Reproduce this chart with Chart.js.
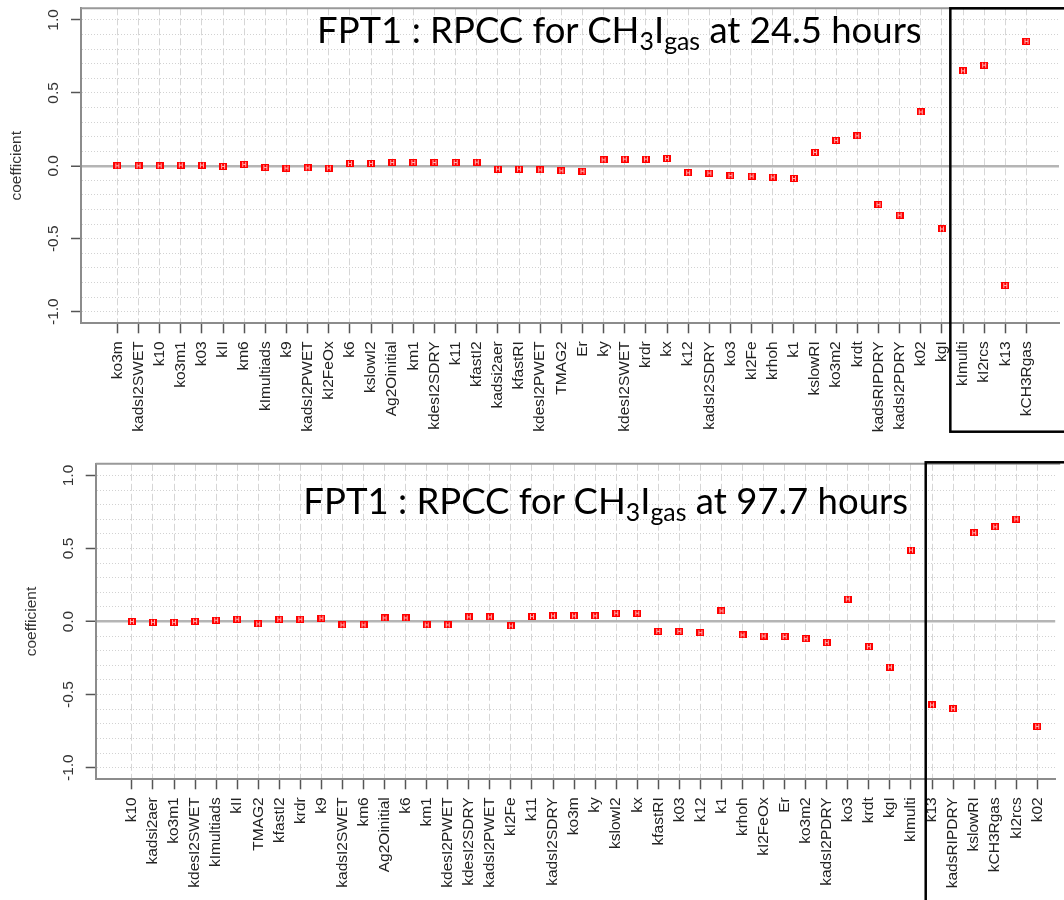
<!DOCTYPE html>
<html>
<head>
<meta charset="utf-8">
<script src="https://cdn.jsdelivr.net/npm/chart.js@4.4.1/dist/chart.umd.min.js"></script>
<style>
  html, body { margin: 0; padding: 0; background: #fff; overflow: hidden; }
  body { width: 1064px; height: 900px; position: relative; }
  canvas { position: absolute; left: 0; }
  #topChart { top: 0; }
  #bottomChart { top: 455px; }
  .title {
    position: absolute;
    font-family: Lato, "Open Sans", sans-serif;
    font-size: 36.5px;
    line-height: 1;
    color: #000;
    white-space: nowrap;
  }
  .title .sub { font-size: 0.68em; position: relative; top: 0.3em; }
  #topTitle { left: 317px; top: 11px; }
  #bottomTitle { right: 156px; top: 482px; }
</style>
</head>
<body>
<canvas id="topChart" width="1064" height="455"></canvas>
<canvas id="bottomChart" width="1064" height="445"></canvas>
<div class="title" id="topTitle">FPT1 : RPCC for CH<span class="sub">3</span>I<span class="sub">gas</span> at 24.5 hours</div>
<div class="title" id="bottomTitle">FPT1 : RPCC for CH<span class="sub">3</span>I<span class="sub">gas</span> at 97.7 hours</div>
<script>
// parameters at 24.5 hours
const topLabels = ['ko3m', 'kadsI2SWET', 'k10', 'ko3m1', 'k03', 'kII', 'km6', 'kImultiads', 'k9', 'kadsI2PWET',
  'kI2FeOx', 'k6', 'kslowI2', 'Ag2Oinitial', 'km1', 'kdesI2SDRY', 'k11', 'kfastI2', 'kadsi2aer', 'kfastRI',
  'kdesI2PWET', 'TMAG2', 'Er', 'ky', 'kdesI2SWET', 'krdr', 'kx', 'k12', 'kadsI2SDRY', 'ko3',
  'kI2Fe', 'krhoh', 'k1', 'kslowRI', 'ko3m2', 'krdt', 'kadsRIPDRY', 'kadsI2PDRY', 'k02', 'kgI',
  'kImulti', 'kI2rcs', 'k13', 'kCH3Rgas']
const topValues = [0.0, 0.0, 0.0, 0.005, 0.005, -0.004, 0.01, -0.012, -0.016, -0.014,
  -0.016, 0.016, 0.016, 0.023, 0.023, 0.023, 0.023, 0.025, -0.023, -0.023,
  -0.028, -0.034, -0.037, 0.041, 0.046, 0.046, 0.05, -0.048, -0.05, -0.067,
  -0.071, -0.078, -0.087, 0.092, 0.174, 0.206, -0.266, -0.339, 0.369, -0.433,
  0.651, 0.69, -0.821, 0.853]

// parameters at 97.7 hours
const bottomLabels = ['k10', 'kadsi2aer', 'ko3m1', 'kdesI2SWET', 'kImultiads', 'kII', 'TMAG2', 'kfastI2', 'krdr', 'k9',
  'kadsI2SWET', 'km6', 'Ag2Oinitial', 'k6', 'km1', 'kdesI2PWET', 'kdesI2SDRY', 'kadsI2PWET', 'kI2Fe', 'k11',
  'kadsI2SDRY', 'ko3m', 'ky', 'kslowI2', 'kx', 'kfastRI', 'k03', 'k12', 'k1', 'krhoh',
  'kI2FeOx', 'Er', 'ko3m2', 'kadsI2PDRY', 'ko3', 'krdt', 'kgI', 'kImulti', 'k13', 'kadsRIPDRY',
  'kslowRI', 'kCH3Rgas', 'kI2rcs', 'k02']
const bottomValues = [0.0, -0.005, -0.005, 0.002, 0.009, 0.016, -0.016, 0.016, 0.016, 0.023,
  -0.023, -0.023, 0.025, 0.025, -0.023, -0.023, 0.032, 0.032, -0.03, 0.034,
  0.039, 0.039, 0.039, 0.057, 0.057, -0.067, -0.067, -0.076, 0.073, -0.092,
  -0.099, -0.103, -0.117, -0.144, 0.154, -0.172, -0.312, 0.489, -0.571, -0.596,
  0.608, 0.649, 0.702, -0.718]

const yTickValues = [-1.0, -0.5, 0.0, 0.5, 1.0]
const yTickLabels = ['-1.0', '-0.5', '0.0', '0.5', '1.0']

// dotted grid every 0.1
const yGrid = []
for (let i = -10; i <= 10; i++) yGrid.push(i / 10)

const isMajor = v => yTickValues.some(t => Math.abs(t - v) < 1e-9)

const axisFont = '"Liberation Sans", Arial, sans-serif'

// little red square marker
function makeMarker() {
  const c = document.createElement('canvas')
  c.width = 8
  c.height = 7
  const g = c.getContext('2d')
  g.fillStyle = '#ff0000'
  g.fillRect(0, 0, 8, 7)
  g.fillStyle = 'rgba(255,200,200,0.9)'
  g.fillRect(2, 1, 1, 5)
  g.fillRect(5, 1, 1, 5)
  g.fillRect(3, 3, 2, 1)
  return c
}
const marker = makeMarker()

// frame top line, rotated y labels, highlight box
const panelExtras = {
  id: 'panelExtras',
  afterDraw(chart, args, opts) {
    const {ctx, chartArea} = chart
    const x = chart.scales.x
    const y = chart.scales.y
    ctx.save()
    ctx.strokeStyle = '#999'
    ctx.lineWidth = 2
    ctx.beginPath()
    ctx.moveTo(chartArea.left, chartArea.top)
    ctx.lineTo(chartArea.right + 5, chartArea.top)
    ctx.stroke()

    ctx.fillStyle = '#333'
    ctx.font = '15.5px ' + axisFont
    ctx.textAlign = 'center'
    ctx.textBaseline = 'middle'
    yTickValues.forEach((v, i) => {
      ctx.save()
      ctx.translate(chartArea.left - 27, y.getPixelForValue(v))
      ctx.rotate(-Math.PI / 2)
      ctx.fillText(yTickLabels[i], 0, 0)
      ctx.restore()
    })

    const bx = x.getPixelForValue(opts.boxFrom)
    ctx.strokeStyle = '#000'
    ctx.lineWidth = 2.5
    ctx.strokeRect(bx, opts.boxTop, chart.width + 20 - bx, opts.boxBottom - opts.boxTop)
    ctx.restore()
  }
}

function makePanel(id, labels, values, geo) {
  const points = values.map((v, i) => ({x: i, y: v}))
  return new Chart(document.getElementById(id), {
    type: 'scatter',
    data: {
      datasets: [{
        data: points,
        pointStyle: marker,
        pointRadius: 4,
        showLine: false
      }]
    },
    plugins: [panelExtras],
    options: {
      responsive: false,
      animation: false,
      layout: {padding: {top: geo.top, left: 0, right: 0, bottom: 0}},
      plugins: {
        legend: {display: false},
        tooltip: {enabled: false},
        panelExtras: {boxFrom: geo.boxFrom, boxTop: geo.boxTop, boxBottom: geo.boxBottom}
      },
      scales: {
        x: {
          type: 'linear',
          min: -1.72,
          max: geo.xMax,
          afterBuildTicks: axis => { axis.ticks = labels.map((_, i) => ({value: i})) },
          afterFit: axis => { axis.height = geo.xHeight },
          ticks: {
            autoSkip: false,
            minRotation: 90,
            maxRotation: 90,
            padding: 8,
            color: '#222',
            font: {family: axisFont, size: 15.5},
            callback: v => labels[v]
          },
          grid: {
            color: '#d6d6d6',
            lineWidth: 1,
            tickColor: '#555',
            tickLength: 10,
            tickWidth: 1.5
          },
          border: {display: true, color: '#8c8c8c', width: 2, dash: [7, 3]}
        },
        y: {
          min: -1.08,
          max: 1.08,
          afterBuildTicks: axis => { axis.ticks = yGrid.map(v => ({value: v})) },
          afterFit: axis => { axis.width = geo.left },
          ticks: {display: false},
          title: {
            display: true,
            text: 'coefficient',
            color: '#333',
            font: {family: axisFont, size: 15.5},
            padding: {top: geo.titlePad, bottom: 0}
          },
          grid: {
            color: ctx => (ctx.tick && ctx.tick.value === 0) ? '#b5b5b5' : '#d2d2d2',
            lineWidth: ctx => (ctx.tick && ctx.tick.value === 0) ? 2.5 : 1,
            tickColor: ctx => (ctx.tick && isMajor(ctx.tick.value)) ? '#555' : 'rgba(0,0,0,0)',
            tickLength: 10,
            tickWidth: 1.5
          },
          border: {
            display: true,
            color: '#8c8c8c',
            width: 2,
            dash: ctx => (ctx.tick && ctx.tick.value !== 0) ? [1, 2] : []
          }
        }
      }
    }
  })
}

makePanel('topChart', topLabels, topValues, {
  top: 8.3, left: 81, xHeight: 455 - 323.3, xMax: 44.54,
  titlePad: 7.5, boxFrom: 39.4, boxTop: 8.3, boxBottom: 431.7
})
makePanel('bottomChart', bottomLabels, bottomValues, {
  top: 8.8, left: 95.7, xHeight: 445 - 324.3, xMax: 43.85,
  titlePad: 22.5, boxFrom: 37.7, boxTop: 7.3, boxBottom: 470
})
</script>
</body>
</html>
